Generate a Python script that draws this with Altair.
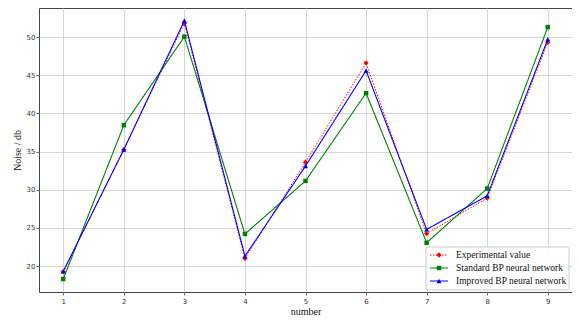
import altair as alt
import pandas as pd

numbers = [1, 2, 3, 4, 5, 6, 7, 8, 9]
series_names = ["Experimental value", "Standard BP neural network", "Improved BP neural network"]
experimental = [19.25, 35.25, 51.8, 21.0, 33.6, 46.6, 24.25, 28.9, 49.3]
standard_bp = [18.3, 38.45, 50.05, 24.2, 31.15, 42.65, 23.05, 30.15, 51.3]
improved_bp = [19.3, 35.25, 52.15, 21.3, 33.1, 45.6, 24.8, 29.2, 49.7]
y_ticks = [20, 25, 30, 35, 40, 45, 50]

colors = ["#ff0000", "#008000", "#0000ff"]
shapes = ["diamond", "square", "triangle-up"]
dashes = [[1.5, 1.5], [1, 0], [1, 0]]
widths = [1.0, 1.1, 1.1]
sizes = [28, 20, 26]

rows = []
for name, vals in zip(series_names, [experimental, standard_bp, improved_bp]):
    for n, v in zip(numbers, vals):
        rows.append({"number": n, "value": v, "series": name})
df = pd.DataFrame(rows)

serif = "Liberation Serif"
sans = "DejaVu Sans"

xscale = alt.Scale(domain=[0.6, 9.4], nice=False, zero=False)
yscale = alt.Scale(domain=[16.6, 53.8], nice=False, zero=False)
xaxis = alt.Axis(values=numbers, format="d", grid=True)

layers = []
for i, name in enumerate(series_names):
    sub = df[df.series == name]
    xenc = alt.X("number:Q", scale=xscale, title="number", axis=xaxis)
    if i == 0:
        yenc = alt.Y("value:Q", scale=yscale, title="Noise / db",
                     axis=alt.Axis(values=y_ticks, grid=True))
    else:
        yenc = alt.Y("value:Q", scale=yscale, axis=None)
    line = alt.Chart(sub).mark_line(
        color=colors[i], strokeWidth=widths[i], strokeDash=dashes[i]
    ).encode(x=xenc, y=yenc)
    pts = alt.Chart(sub).mark_point(
        shape=shapes[i], filled=True, color=colors[i], size=sizes[i], opacity=1
    ).encode(x=xenc, y=alt.Y("value:Q", scale=yscale, axis=None))
    layers += [line, pts]

# legend
leg = pd.DataFrame({"series": series_names, "row": [0, 1, 2],
                    "color": colors})
lscale = alt.Scale(domain=[0, 2], range=[247, 273], nice=False, zero=False)
box = alt.Chart(pd.DataFrame({"a": [0]})).mark_rect(
    fill="white", fillOpacity=0.85, stroke="#cccccc", strokeWidth=1, cornerRadius=2
).encode(x=alt.value(387), x2=alt.value(530), y=alt.value(239), y2=alt.value(282))
layers.append(box)
for i, name in enumerate(series_names):
    one = leg[leg.row == i]
    r = alt.Chart(one).mark_rule(
        color=colors[i], strokeWidth=widths[i], strokeDash=dashes[i]
    ).encode(x=alt.value(391), x2=alt.value(409),
             y=alt.Y("row:Q", scale=lscale, axis=None))
    p = alt.Chart(one).mark_point(
        shape=shapes[i], filled=True, color=colors[i], size=sizes[i], opacity=1
    ).encode(x=alt.value(400), y=alt.Y("row:Q", scale=lscale, axis=None))
    t = alt.Chart(one).mark_text(
        align="left", baseline="middle", font=serif, fontSize=9.5, color="#111"
    ).encode(x=alt.value(417), y=alt.Y("row:Q", scale=lscale, axis=None),
             text="series:N")
    layers += [r, p, t]

chart = alt.layer(*layers).resolve_scale(y="independent").properties(
    width=533, height=284,
    autosize=alt.AutoSizeParams(type="none"),
    padding={"left": 31, "top": 0, "right": 0, "bottom": 25},
).configure_view(
    stroke="#444444", strokeWidth=1
).configure_axis(
    gridColor="#d0d0d0", gridWidth=0.9, domain=False,
    tickSize=3, tickColor="#444444", tickWidth=0.8,
    labelFont=sans, labelFontSize=7, labelColor="#333333",
    titleFont=serif, titleFontSize=10, titleFontWeight="normal", titleColor="#111111",
).configure_axisY(labelPadding=1, titlePadding=4).configure_axisX(labelPadding=2, titlePadding=2)

chart.save("out.html", embed_options={"renderer": "svg", "actions": False})
